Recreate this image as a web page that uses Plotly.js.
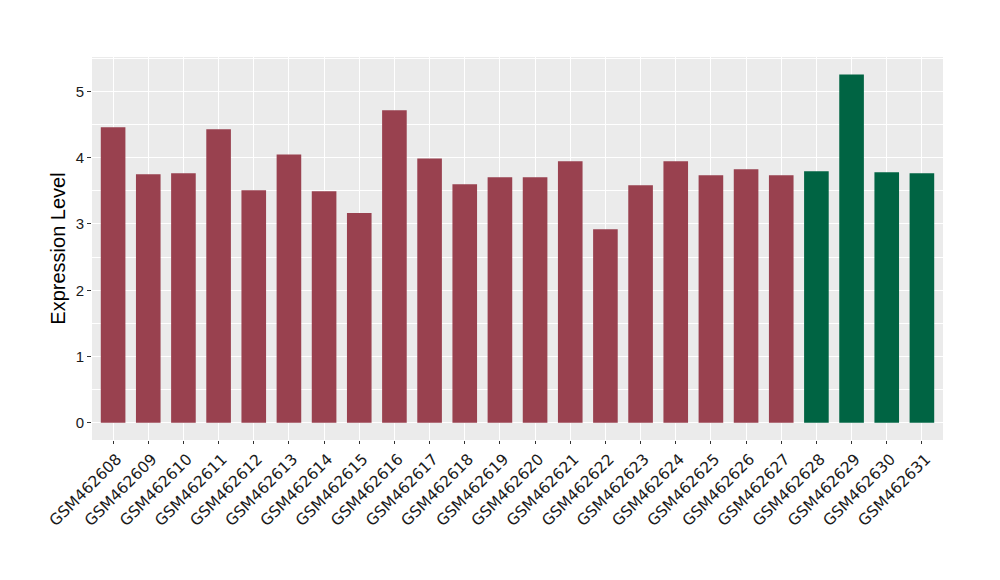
<!DOCTYPE html>
<html>
<head>
<meta charset="utf-8">
<script src="https://cdn.plot.ly/plotly-3.0.1.min.js"></script>
<style>html,body{margin:0;padding:0;background:#fff;}#chart{width:1000px;height:580px;}</style>
</head>
<body>
<div id="chart"></div>
<script>
const samples = ["GSM462608","GSM462609","GSM462610","GSM462611","GSM462612","GSM462613","GSM462614","GSM462615","GSM462616","GSM462617","GSM462618","GSM462619","GSM462620","GSM462621","GSM462622","GSM462623","GSM462624","GSM462625","GSM462626","GSM462627","GSM462628","GSM462629","GSM462630","GSM462631"];
const values = [4.46,3.75,3.765,4.43,3.51,4.05,3.495,3.165,4.715,3.99,3.60,3.705,3.705,3.945,2.92,3.585,3.945,3.735,3.825,3.735,3.795,5.255,3.78,3.765];
const groups = ["A","A","A","A","A","A","A","A","A","A","A","A","A","A","A","A","A","A","A","A","B","B","B","B"];
const groupColors = {A:"#99414F", B:"#006443"};
const yTicks = [0,1,2,3,4,5];

const trace = {
  type: "bar",
  x: samples,
  y: values,
  marker: {color: groups.map(g => groupColors[g])},
  hoverinfo: "x+y"
};

const layout = {
  width: 1000, height: 580,
  margin: {l: 92, r: 57, t: 57, b: 140},
  paper_bgcolor: "#ffffff",
  plot_bgcolor: "#EBEBEB",
  bargap: 0.3,
  showlegend: false,
  font: {family: "DejaVu Sans, sans-serif", color: "#1a1a1a"},
  xaxis: {
    type: "category",
    tickangle: -45,
    showgrid: true, gridcolor: "#ffffff", gridwidth: 1.1,
    ticks: "outside", ticklen: 3, tickcolor: "#333333", tickwidth: 1,
    ticklabelshift: 4,
    tickfont: {size: 15.5, color: "#1a1a1a", family: "DejaVu Sans, sans-serif"},
    zeroline: false, showline: false,
    range: [-0.6, samples.length - 0.4]
  },
  yaxis: {
    title: {text: "Expression Level", font: {size: 20, family: "Liberation Sans, Arial, sans-serif", color: "#000"}, standoff: 4},
    range: [-0.26, 5.52],
    tickvals: yTicks,
    ticktext: yTicks.map(String),
    showgrid: true, gridcolor: "#ffffff", gridwidth: 1.1,
    minor: {dtick: 0.5, tick0: 0.5, showgrid: true, gridcolor: "#ffffff", gridwidth: 0.5, ticks: ""},
    ticks: "outside", ticklen: 4, tickcolor: "#333333", tickwidth: 1,
    tickfont: {size: 15, color: "#1a1a1a", family: "Liberation Sans, Arial, sans-serif"},
    zeroline: false, showline: false
  }
};

Plotly.newPlot("chart", [trace], layout, {displayModeBar: false});
</script>
</body>
</html>
